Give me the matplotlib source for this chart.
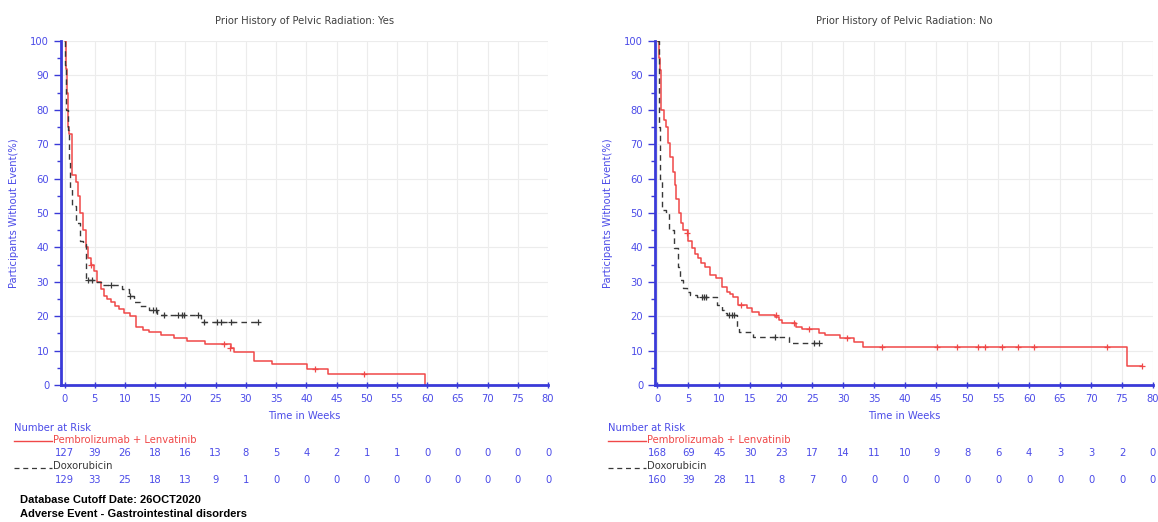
import numpy as np
import matplotlib.pyplot as plt
from matplotlib.lines import Line2D

W, H = 1158, 522

# Kaplan-Meier steps: Prior pelvic radiation = Yes
yes_pl_t = [0, 0.2, 0.4, 0.6, 0.7, 1.2, 1.8, 2.2, 2.6, 3.0, 3.5, 3.9, 4.3, 4.8, 5.4, 6.0, 6.5,
            7.0, 7.6, 8.4, 9.0, 9.8, 10.8, 11.8, 13.0, 14.0, 16.0, 18.1, 20.3, 23.3, 27.5,
            28.0, 31.4, 34.4, 40.1, 43.6, 59.6]
yes_pl_s = [100, 92, 85, 75, 73, 61, 59, 55, 50, 45, 40, 37, 35, 33, 30, 28, 26,
            25, 24, 23, 22, 20.8, 20, 17, 16, 15.5, 14.5, 13.6, 12.7, 12.0, 10.9,
            9.7, 7.1, 6.1, 4.6, 3.1, 0]
yes_pl_cens_t = [4.3, 26.4, 27.4, 41.4, 49.5]
yes_pl_cens_s = [35, 12.0, 10.9, 4.6, 3.1]

yes_dx_t = [0, 0.1, 0.2, 0.3, 0.5, 0.7, 0.9, 1.3, 1.8, 2.6, 3.1, 3.5, 5.0, 6.0, 9.5, 10.6,
            11.4, 12.5, 14.0, 15.3, 22.5, 32.2]
yes_dx_s = [100, 93, 87, 80, 74, 65, 57, 52, 47, 42, 41, 30.5, 30, 29, 28, 26,
            24, 23, 21.8, 20.3, 18.4, 18.4]
yes_dx_cens_t = [3.9, 4.5, 7.7, 10.8, 14.7, 15.2, 16.4, 18.8, 19.4, 19.8, 22.0,
                 23.1, 25.3, 25.9, 27.6, 32.0]
yes_dx_cens_s = [30.5, 30.5, 29, 26, 21.8, 21.8, 20.3, 20.3, 20.3, 20.3, 20.3,
                 18.4, 18.4, 18.4, 18.4, 18.4]

# Kaplan-Meier steps: Prior pelvic radiation = No
no_pl_t = [0, 0.2, 0.4, 0.5, 0.6, 1.1, 1.3, 1.7, 2.1, 2.5, 2.8, 3.0, 3.4, 3.8, 4.2, 5.0,
           5.5, 6.0, 6.6, 7.1, 7.6, 8.4, 9.4, 10.4, 11.2, 11.7, 12.2, 13.0, 14.5, 15.3,
           16.4, 19.0, 19.6, 20.1, 22.3, 23.4, 26.0, 27.0, 29.4, 31.8, 33.2, 75.8, 78.2]
no_pl_s = [100, 95, 91.6, 85, 80, 77, 75, 70.3, 66.4, 62, 58, 54, 50, 47, 45, 42,
           39.7, 38, 36.8, 35.5, 34.4, 32, 31, 28.6, 27.1, 26.5, 25.7, 23.3, 22.3, 21.3,
           20.3, 19.9, 18.9, 17.9, 17.0, 16.3, 15.2, 14.4, 13.6, 12.6, 11.1, 5.6, 5.6]
no_pl_cens_t = [4.7, 13.5, 19.2, 22.0, 24.5, 30.6, 36.3, 45.2, 48.3, 51.7, 52.9,
                55.6, 58.2, 60.8, 72.5, 78.2]
no_pl_cens_s = [44.2, 23.3, 20.3, 17.9, 16.3, 13.6, 11.1, 11.1, 11.1, 11.1, 11.1,
                11.1, 11.1, 11.1, 11.1, 5.6]

no_dx_t = [0, 0.2, 0.3, 0.4, 0.75, 1.3, 1.8, 2.6, 3.3, 3.7, 4.2, 4.7, 5.3, 6.4, 9.6,
           10.4, 10.7, 11.2, 12.8, 13.1, 15.5, 21.2, 26.5]
no_dx_s = [100, 90, 75, 60, 51, 49.9, 45, 39.7, 34.4, 30.5, 28.1, 27.1, 26.2, 25.5, 23.3,
           21.8, 21.0, 20.3, 17, 15.5, 14, 12.1, 12.1]
no_dx_cens_t = [7.2, 7.5, 7.8, 11.5, 12.0, 12.4, 19.0, 25.3, 26.0]
no_dx_cens_s = [25.5, 25.5, 25.5, 20.3, 20.3, 20.3, 14, 12.1, 12.1]

risk_times = list(range(0, 81, 5))
yes_pl_risk = [127, 39, 26, 18, 16, 13, 8, 5, 4, 2, 1, 1, 0, 0, 0, 0, 0]
yes_dx_risk = [129, 33, 25, 18, 13, 9, 1, 0, 0, 0, 0, 0, 0, 0, 0, 0, 0]
no_pl_risk = [168, 69, 45, 30, 23, 17, 14, 11, 10, 9, 8, 6, 4, 3, 3, 2, 0]
no_dx_risk = [160, 39, 28, 11, 8, 7, 0, 0, 0, 0, 0, 0, 0, 0, 0, 0, 0]

BLUE = '#4b4be8'
SPINE = '#3a3ad8'
RED = '#f04848'
DARK = '#383838'
FS = 7.2
plt.rcParams['font.family'] = ['DejaVu Sans']

fig = plt.figure(figsize=(W / 100, H / 100), dpi=100)


def px_box(x0, x1, y_top, y_bot):
    return [x0 / W, 1 - y_bot / H, (x1 - x0) / W, (y_bot - y_top) / H]


def km_panel(box, xmin, title, pl, dx, pl_risk, dx_risk, leg_x):
    ax = fig.add_axes(box)
    ax.step(pl[0], pl[1], where='post', color=RED, lw=1.1)
    ax.plot(pl[2], pl[3], ls='none', marker='+', ms=4, mew=0.9, color=RED)
    ax.step(dx[0], dx[1], where='post', color=DARK, lw=1.0, dashes=(4, 3))
    ax.plot(dx[2], dx[3], ls='none', marker='+', ms=4, mew=0.9, color=DARK)

    ax.set_xlim(xmin, 80)
    ax.set_ylim(0, 100)
    ax.set_xticks(risk_times)
    ax.set_yticks(range(0, 101, 10))
    ax.set_yticks(range(5, 100, 10), minor=True)
    ax.grid(True, color='#ececec', lw=0.8)
    ax.set_axisbelow(True)
    for s in ['top', 'right']:
        ax.spines[s].set_visible(False)
    for s in ['left', 'bottom']:
        ax.spines[s].set_color(SPINE)
        ax.spines[s].set_linewidth(2)
    ax.tick_params(axis='y', which='major', colors=SPINE, labelcolor=BLUE,
                   labelsize=FS, length=5, width=1)
    ax.tick_params(axis='y', which='minor', colors=SPINE, length=3, width=1)
    ax.tick_params(axis='x', colors=SPINE, labelcolor=BLUE, labelsize=FS,
                   direction='inout', length=5, width=1, pad=4)
    ax.set_title(title, fontsize=FS, color='#404040', pad=12)
    ax.set_ylabel('Participants Without Event(%)', fontsize=FS, color=BLUE, labelpad=8)
    ax.set_xlabel('Time in Weeks', fontsize=FS, color=BLUE, labelpad=5)

    # number at risk table
    tr = ax.get_xaxis_transform()
    for t, a, b in zip(risk_times, pl_risk, dx_risk):
        ax.text(t, -0.198, str(a), transform=tr, ha='center', va='center',
                fontsize=FS, color=BLUE, clip_on=False)
        ax.text(t, -0.276, str(b), transform=tr, ha='center', va='center',
                fontsize=FS, color=BLUE, clip_on=False)

    fig.text(leg_x / W, 1 - 428 / H, 'Number at Risk', fontsize=FS, color=BLUE,
             va='center')
    fig.add_artist(Line2D([leg_x / W, (leg_x + 38) / W], [1 - 441 / H] * 2,
                          color=RED, lw=1))
    fig.text((leg_x + 39) / W, 1 - 440 / H, 'Pembrolizumab + Lenvatinib',
             fontsize=FS, color=RED, va='center')
    fig.add_artist(Line2D([leg_x / W, (leg_x + 38) / W], [1 - 468 / H] * 2,
                          color=DARK, lw=0.9, dashes=(4, 3)))
    fig.text((leg_x + 39) / W, 1 - 466 / H, 'Doxorubicin',
             fontsize=FS, color=DARK, va='center')
    return ax


km_panel(px_box(61, 548, 41, 385), -0.6,
         'Prior History of Pelvic Radiation: Yes',
         (yes_pl_t, yes_pl_s, yes_pl_cens_t, yes_pl_cens_s),
         (yes_dx_t, yes_dx_s, yes_dx_cens_t, yes_dx_cens_s),
         yes_pl_risk, yes_dx_risk, 14)

km_panel(px_box(655, 1153, 41, 385), -0.4,
         'Prior History of Pelvic Radiation: No',
         (no_pl_t, no_pl_s, no_pl_cens_t, no_pl_cens_s),
         (no_dx_t, no_dx_s, no_dx_cens_t, no_dx_cens_s),
         no_pl_risk, no_dx_risk, 608)

foot = dict(fontsize=8, fontweight='bold', color='black', va='center',
            family=['Liberation Sans', 'DejaVu Sans'])
fig.text(20 / W, 1 - 500 / H, 'Database Cutoff Date: 26OCT2020', **foot)
fig.text(20 / W, 1 - 514 / H, 'Adverse Event - Gastrointestinal disorders', **foot)

fig.savefig('out.png', dpi=100, facecolor='white')
